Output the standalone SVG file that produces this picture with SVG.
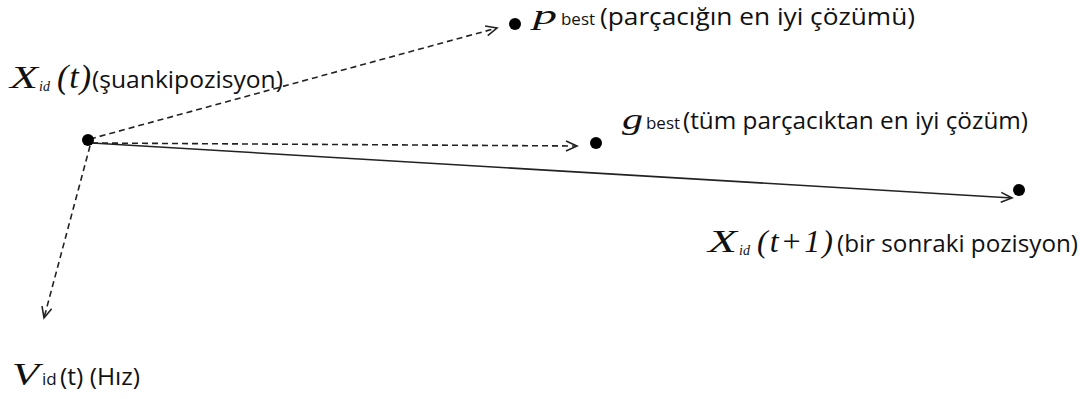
<svg xmlns="http://www.w3.org/2000/svg" width="1083" height="399" viewBox="0 0 1083 399">
<style>
.t{font-family:"Open Sans","Liberation Sans",sans-serif;font-size:24px;fill:#111}
.m{font-family:"Liberation Serif",serif;font-style:italic;fill:#111}
.s{font-family:"Open Sans","Liberation Sans",sans-serif;font-size:17px;fill:#111}
.d{stroke:#222;stroke-width:1.6;stroke-dasharray:6,4;fill:none}
.l{stroke:#222;stroke-width:1.6;fill:none}
</style>
<defs>
<marker id="a" markerWidth="14" markerHeight="12" refX="12" refY="6" orient="auto" markerUnits="userSpaceOnUse">
<path d="M1,1 L12,6 L1,11" fill="none" stroke="#222" stroke-width="1.6"/>
</marker>
</defs>
<rect width="1083" height="399" fill="#fff"/>
<g id="connectors">
<line class="d" x1="90" y1="139" x2="497" y2="28" marker-end="url(#a)"/>
<line class="d" x1="92" y1="143" x2="577" y2="146" marker-end="url(#a)"/>
<line class="l" x1="92" y1="143" x2="1012" y2="198" marker-end="url(#a)"/>
<line class="d" x1="90" y1="146" x2="44" y2="318" marker-end="url(#a)"/>
</g>
<g id="xt">
<circle cx="88" cy="140" r="6" fill="#000"/>
<text class="m" x="10" y="88" font-size="32" textLength="28" lengthAdjust="spacingAndGlyphs">X</text>
<text class="m" x="39" y="91" font-size="14">id</text>
<text class="m" x="57" y="88" font-size="34" letter-spacing="1">(t)</text>
<text class="t" x="92" y="88" textLength="191" lengthAdjust="spacingAndGlyphs">(şuankipozisyon)</text>
</g>
<g id="pbest">
<circle cx="515" cy="24" r="6" fill="#000"/>
<text class="m" x="533" y="24" font-size="28" textLength="24" lengthAdjust="spacingAndGlyphs">p</text>
<text class="s" x="561" y="25" textLength="34" lengthAdjust="spacingAndGlyphs">best</text>
<text class="t" x="600" y="25" textLength="315" lengthAdjust="spacingAndGlyphs">(parçacığın en iyi çözümü)</text>
</g>
<g id="gbest">
<circle cx="596" cy="143" r="6" fill="#000"/>
<text class="m" x="622" y="129" font-size="30" textLength="21" lengthAdjust="spacingAndGlyphs">g</text>
<text class="s" x="646" y="129" textLength="34" lengthAdjust="spacingAndGlyphs">best</text>
<text class="t" x="683" y="129" textLength="345" lengthAdjust="spacingAndGlyphs">(tüm parçacıktan en iyi çözüm)</text>
</g>
<g id="xt1">
<circle cx="1019" cy="190" r="6" fill="#000"/>
<text class="m" x="708" y="252" font-size="32" textLength="29" lengthAdjust="spacingAndGlyphs">X</text>
<text class="m" x="739" y="255" font-size="14">id</text>
<text class="m" x="757" y="252" font-size="32" letter-spacing="2">(t+1)</text>
<text class="t" x="837" y="252" textLength="241" lengthAdjust="spacingAndGlyphs">(bir sonraki pozisyon)</text>
</g>
<g id="v">
<text class="m" x="12" y="385" font-size="32" textLength="27" lengthAdjust="spacingAndGlyphs">V</text>
<text class="s" x="42" y="385" font-size="18">id</text>
<text class="t" x="60" y="385" textLength="80" lengthAdjust="spacingAndGlyphs">(t) (Hız)</text>
</g>
</svg>
